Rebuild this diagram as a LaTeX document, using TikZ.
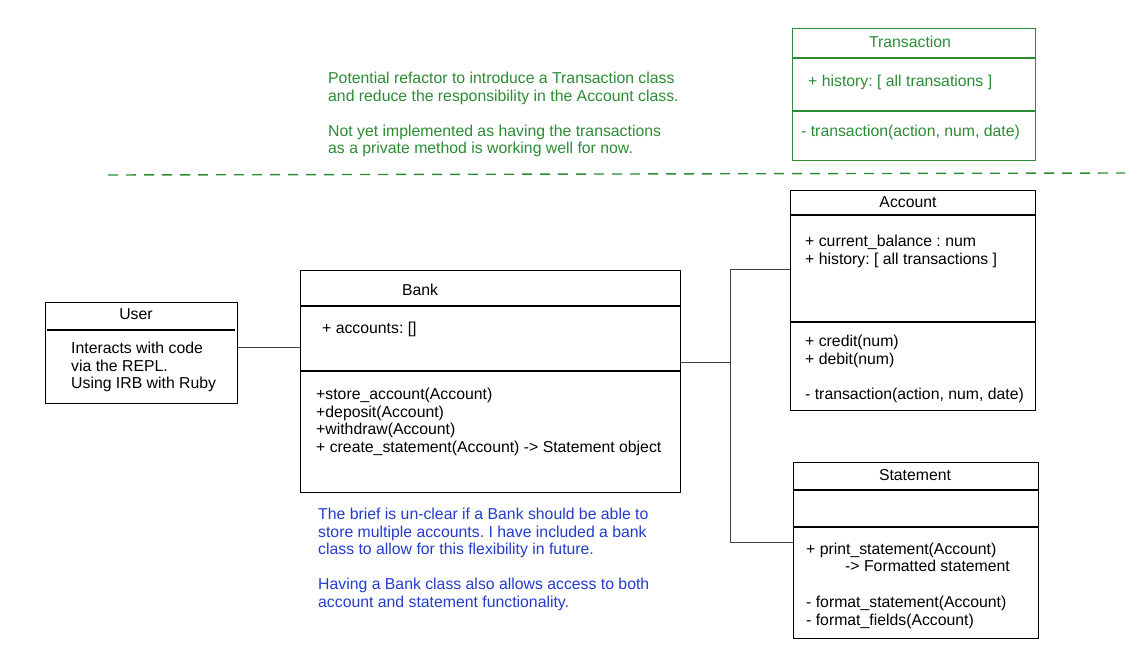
\documentclass[tikz,border=0pt]{standalone}
\usepackage{fontspec}
\setmainfont{Liberation Sans}
\definecolor{sketchgreen}{RGB}{44,140,52}
\definecolor{sketchblue}{RGB}{35,60,205}
\begin{document}
\frenchspacing
\begin{tikzpicture}[x=1pt,y=-1pt,
  umlbox/.style={draw, line width=1.1pt, minimum width=#1, anchor=north west, inner sep=0pt},
  lbl/.style={inner sep=0pt, anchor=north west, align=left, font=\fontsize{15.8}{17.5}\selectfont},
  ttl/.style={inner sep=0pt, anchor=center, font=\fontsize{15.8}{17.5}\selectfont},
  sep/.style={line width=1.1pt},
  conn/.style={line width=1pt, draw=black!75}]
\useasboundingbox (0,0) rectangle (1142,671);
% Transaction (green)
\node[umlbox=243pt, minimum height=132pt, draw=sketchgreen] (trans) at (792,28) {};
\draw[sep, sketchgreen] (792,58) -- (1035,58);
\draw[sep, sketchgreen] (792,111) -- (1035,111);
\node[ttl, text=sketchgreen] (transT) at (910,42) {Transaction};
\node[lbl, text=sketchgreen] (transA) at (808,75) {+ history: [ all transations ]};
\node[lbl, text=sketchgreen] (transM) at (801,125) {- transaction(action, num, date)};
% green note
\node[lbl, text=sketchgreen] (note1) at (328,72) {Potential refactor to introduce a Transaction class\\and reduce the responsibility in the Account class.\\[17.5pt]Not yet implemented as having the transactions\\as a private method is working well for now.};
% dashed divider
\coordinate (dl) at (108,175);
\coordinate (dr) at (1125,173);
\draw[sketchgreen, line width=1.4pt, dash pattern=on 10pt off 8pt] (dl) -- (dr);
% Account
\node[umlbox=245pt, minimum height=220pt] (account) at (790,190) {};
\draw[sep] (790,215) -- (1035,215);
\draw[sep] (790,322) -- (1035,322);
\node[ttl] (accT) at (908,202) {Account};
\node[lbl] (accA) at (805,235) {+ current\_balance : num\\+ history: [ all transactions ]};
\node[lbl] (accM) at (805,335) {+ credit(num)\\+ debit(num)\\[17.5pt]- transaction(action, num, date)};
% Bank
\node[umlbox=380pt, minimum height=222pt] (bank) at (300,270) {};
\draw[sep] (300,306) -- (680,306);
\draw[sep] (300,371) -- (680,371);
\node[ttl] (bankT) at (420,290) {Bank};
\node[lbl] (bankA) at (322,322) {+ accounts: []};
\node[lbl] (bankM) at (316,388) {+store\_account(Account)\\+deposit(Account)\\+withdraw(Account)\\+ create\_statement(Account) -> Statement object};
% blue note
\node[lbl, text=sketchblue] (note2) at (318,508) {The brief is un-clear if a Bank should be able to\\store multiple accounts. I have included a bank\\class to allow for this flexibility in future.\\[17.5pt]Having a Bank class also allows access to both\\account and statement functionality.};
% User
\node[umlbox=192pt, minimum height=101pt] (user) at (45,302) {};
\draw[line width=2pt] (47,330) -- (235,330);
\node[ttl] (userT) at (136,314) {User};
\node[lbl] (userB) at (71,342) {Interacts with code\\via the REPL.\\Using IRB with Ruby};
% Statement
\node[umlbox=245pt, minimum height=176pt] (statement) at (793,462) {};
\draw[sep] (793,490) -- (1038,490);
\draw[sep] (793,527) -- (1038,527);
\node[ttl] (stT) at (915,475) {Statement};
\node[lbl] (stM1) at (806,543) {+ print\_statement(Account)};
\node[lbl] (stM2) at (845,560) {-> Formatted statement};
\node[lbl] (stM3) at (806,596) {- format\_statement(Account)\\- format\_fields(Account)};
% connectors
\coordinate (ub) at (0,347);
\draw[conn] (ub -| user.east) -- (ub -| bank.west);
\coordinate (j) at (730,362);
\coordinate (jt) at (730,269);
\coordinate (jb) at (730,542);
\draw[conn] (j -| bank.east) -- (j);
\draw[conn] (jt -| account.west) -- (jt) -- (jb) -- (jb -| statement.west);
\end{tikzpicture}
\end{document}
